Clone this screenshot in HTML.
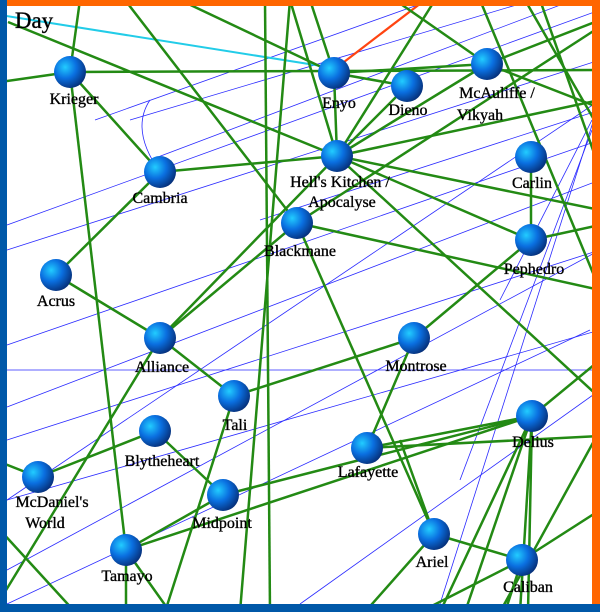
<!DOCTYPE html>
<html><head><meta charset="utf-8"><style>
html,body{margin:0;padding:0;background:#fff}
svg{display:block}
text{font-family:"Liberation Serif",serif;font-size:16px;fill:#000;text-anchor:middle;stroke:#000;stroke-width:0.35}
</style></head><body>
<svg width="600" height="612" viewBox="0 0 600 612" xmlns="http://www.w3.org/2000/svg">
<defs>
<radialGradient id="g" cx="0.35" cy="0.35" r="0.7">
<stop offset="0" stop-color="#22ccff"/><stop offset="0.5" stop-color="#0a6fe0"/><stop offset="1" stop-color="#06307a"/>
</radialGradient>
</defs>
<rect width="600" height="612" fill="#fff"/>
<g stroke="#2a2aff" stroke-width="0.8" fill="none">
<line x1="95" y1="120" x2="600" y2="-60"/>
<line x1="130" y1="120" x2="600" y2="-20"/>
<line x1="7" y1="345" x2="600" y2="140"/>
<line x1="7" y1="407" x2="600" y2="180"/>
<line x1="7" y1="370" x2="600" y2="370"/>
<line x1="7" y1="500" x2="600" y2="330"/>
<line x1="7" y1="570" x2="600" y2="250"/>
<line x1="7" y1="500" x2="600" y2="100"/>
<line x1="7" y1="604" x2="590" y2="330"/>
<line x1="7" y1="250" x2="600" y2="60"/>
<line x1="7" y1="225" x2="600" y2="10"/>
<line x1="150" y1="160" x2="600" y2="-10"/>
<line x1="260" y1="220" x2="600" y2="110"/>
<line x1="300" y1="604" x2="600" y2="390"/>
<line x1="440" y1="604" x2="600" y2="100"/>
<line x1="460" y1="480" x2="592" y2="130"/>
<line x1="500" y1="300" x2="592" y2="120"/>
<line x1="7" y1="440" x2="600" y2="250"/>
<path d="M160 172 Q130 130 150 100"/>
</g>
<g stroke="#22cce8" stroke-width="2"><line x1="0" y1="15" x2="334" y2="68"/></g>
<g stroke="#ff4411" stroke-width="2.2"><line x1="344" y1="62" x2="425" y2="0"/></g>
<g stroke="#238a14" stroke-width="2.5" fill="none">
<line x1="0" y1="82" x2="70" y2="72"/><line x1="70" y1="72" x2="600" y2="70"/>
<line x1="80" y1="0" x2="70" y2="72"/><line x1="70" y1="72" x2="126" y2="550"/>
<line x1="70" y1="72" x2="160" y2="172"/><line x1="8" y1="22" x2="337" y2="156"/>
<line x1="125" y1="0" x2="297" y2="223"/>
<line x1="334" y1="73" x2="487" y2="64"/><line x1="334" y1="73" x2="337" y2="156"/>
<line x1="334" y1="73" x2="407" y2="86"/><line x1="310" y1="0" x2="334" y2="73"/>
<line x1="180" y1="0" x2="334" y2="73"/>
<line x1="290" y1="0" x2="337" y2="156"/><line x1="435" y1="0" x2="337" y2="156"/>
<line x1="337" y1="156" x2="487" y2="64"/><line x1="337" y1="156" x2="600" y2="100"/>
<line x1="337" y1="156" x2="531" y2="240"/><line x1="337" y1="156" x2="600" y2="210"/>
<line x1="337" y1="156" x2="160" y2="172"/><line x1="337" y1="156" x2="160" y2="338"/>
<line x1="337" y1="156" x2="600" y2="398"/><line x1="337" y1="156" x2="407" y2="86"/>
<line x1="487" y1="64" x2="600" y2="20"/><line x1="487" y1="64" x2="600" y2="108"/>
<line x1="395" y1="0" x2="487" y2="64"/><line x1="525" y1="0" x2="600" y2="130"/>
<line x1="595" y1="30" x2="297" y2="223"/><line x1="540" y1="0" x2="600" y2="170"/>
<line x1="531" y1="157" x2="531" y2="240"/><line x1="531" y1="240" x2="600" y2="225"/>
<line x1="531" y1="240" x2="414" y2="338"/><line x1="297" y1="223" x2="600" y2="290"/>
<line x1="297" y1="223" x2="434" y2="534"/><line x1="297" y1="223" x2="160" y2="338"/>
<line x1="290" y1="0" x2="240" y2="612"/><line x1="265" y1="0" x2="270" y2="612"/>
<line x1="160" y1="172" x2="56" y2="275"/>
<line x1="56" y1="275" x2="160" y2="338"/><line x1="160" y1="338" x2="234" y2="396"/>
<line x1="160" y1="338" x2="0" y2="600"/>
<line x1="414" y1="338" x2="234" y2="396"/><line x1="414" y1="338" x2="367" y2="448"/>
<line x1="367" y1="448" x2="532" y2="416"/><line x1="367" y1="448" x2="600" y2="436"/>
<line x1="223" y1="495" x2="532" y2="416"/><line x1="126" y1="550" x2="532" y2="416"/>
<line x1="532" y1="416" x2="600" y2="360"/>
<line x1="532" y1="416" x2="440" y2="612"/><line x1="532" y1="416" x2="465" y2="612"/>
<line x1="532" y1="416" x2="520" y2="612"/><line x1="532" y1="416" x2="528" y2="612"/>
<line x1="434" y1="534" x2="522" y2="560"/><line x1="522" y1="560" x2="600" y2="510"/>
<line x1="522" y1="560" x2="420" y2="612"/><line x1="522" y1="560" x2="505" y2="612"/>
<line x1="0" y1="462" x2="38" y2="477"/><line x1="38" y1="477" x2="155" y2="431"/>
<line x1="155" y1="431" x2="223" y2="495"/><line x1="223" y1="495" x2="126" y2="550"/>
<line x1="126" y1="550" x2="126" y2="612"/><line x1="126" y1="550" x2="170" y2="612"/>
<line x1="234" y1="396" x2="165" y2="612"/><line x1="0" y1="530" x2="75" y2="612"/>
<line x1="434" y1="534" x2="365" y2="612"/><line x1="434" y1="534" x2="400" y2="440"/>
<line x1="480" y1="0" x2="600" y2="290"/><line x1="500" y1="612" x2="600" y2="430"/>
</g>
<g fill="url(#g)">
<circle cx="70" cy="72" r="16"/><circle cx="334" cy="73" r="16"/><circle cx="407" cy="86" r="16"/>
<circle cx="487" cy="64" r="16"/><circle cx="337" cy="156" r="16"/><circle cx="531" cy="157" r="16"/>
<circle cx="160" cy="172" r="16"/><circle cx="297" cy="223" r="16"/><circle cx="531" cy="240" r="16"/>
<circle cx="56" cy="275" r="16"/><circle cx="160" cy="338" r="16"/><circle cx="414" cy="338" r="16"/>
<circle cx="234" cy="396" r="16"/><circle cx="532" cy="416" r="16"/><circle cx="155" cy="431" r="16"/>
<circle cx="367" cy="448" r="16"/><circle cx="38" cy="477" r="16"/><circle cx="223" cy="495" r="16"/>
<circle cx="434" cy="534" r="16"/><circle cx="522" cy="560" r="16"/><circle cx="126" cy="550" r="16"/>
</g>
<g>
<text x="74" y="104">Krieger</text><text x="339" y="108">Enyo</text><text x="408" y="115">Dieno</text>
<text x="497" y="98">McAuliffe /</text><text x="480" y="120">Vikyah</text>
<text x="340" y="187">Hell's Kitchen /</text><text x="342" y="207">Apocalyse</text>
<text x="532" y="188">Carlin</text><text x="160" y="203">Cambria</text><text x="300" y="256">Blackmane</text>
<text x="534" y="274">Pephedro</text><text x="56" y="306">Acrus</text><text x="162" y="372">Alliance</text>
<text x="416" y="371">Montrose</text><text x="235" y="430">Tali</text><text x="533" y="447">Delius</text>
<text x="162" y="466">Blytheheart</text><text x="368" y="477">Lafayette</text>
<text x="52" y="507">McDaniel's</text><text x="45" y="528">World</text>
<text x="222" y="528">Midpoint</text><text x="432" y="567">Ariel</text><text x="528" y="592">Caliban</text>
<text x="127" y="581">Tamayo</text>
<text x="34" y="28" style="font-size:23px">Day</text>
</g>
<rect x="0" y="0" width="600" height="6" fill="#ff6600"/>
<rect x="592" y="0" width="8" height="612" fill="#ff6600"/>
<rect x="0" y="0" width="7" height="612" fill="#0058a8"/>
<rect x="0" y="604" width="600" height="8" fill="#0058a8"/>
</svg>
</body></html>
